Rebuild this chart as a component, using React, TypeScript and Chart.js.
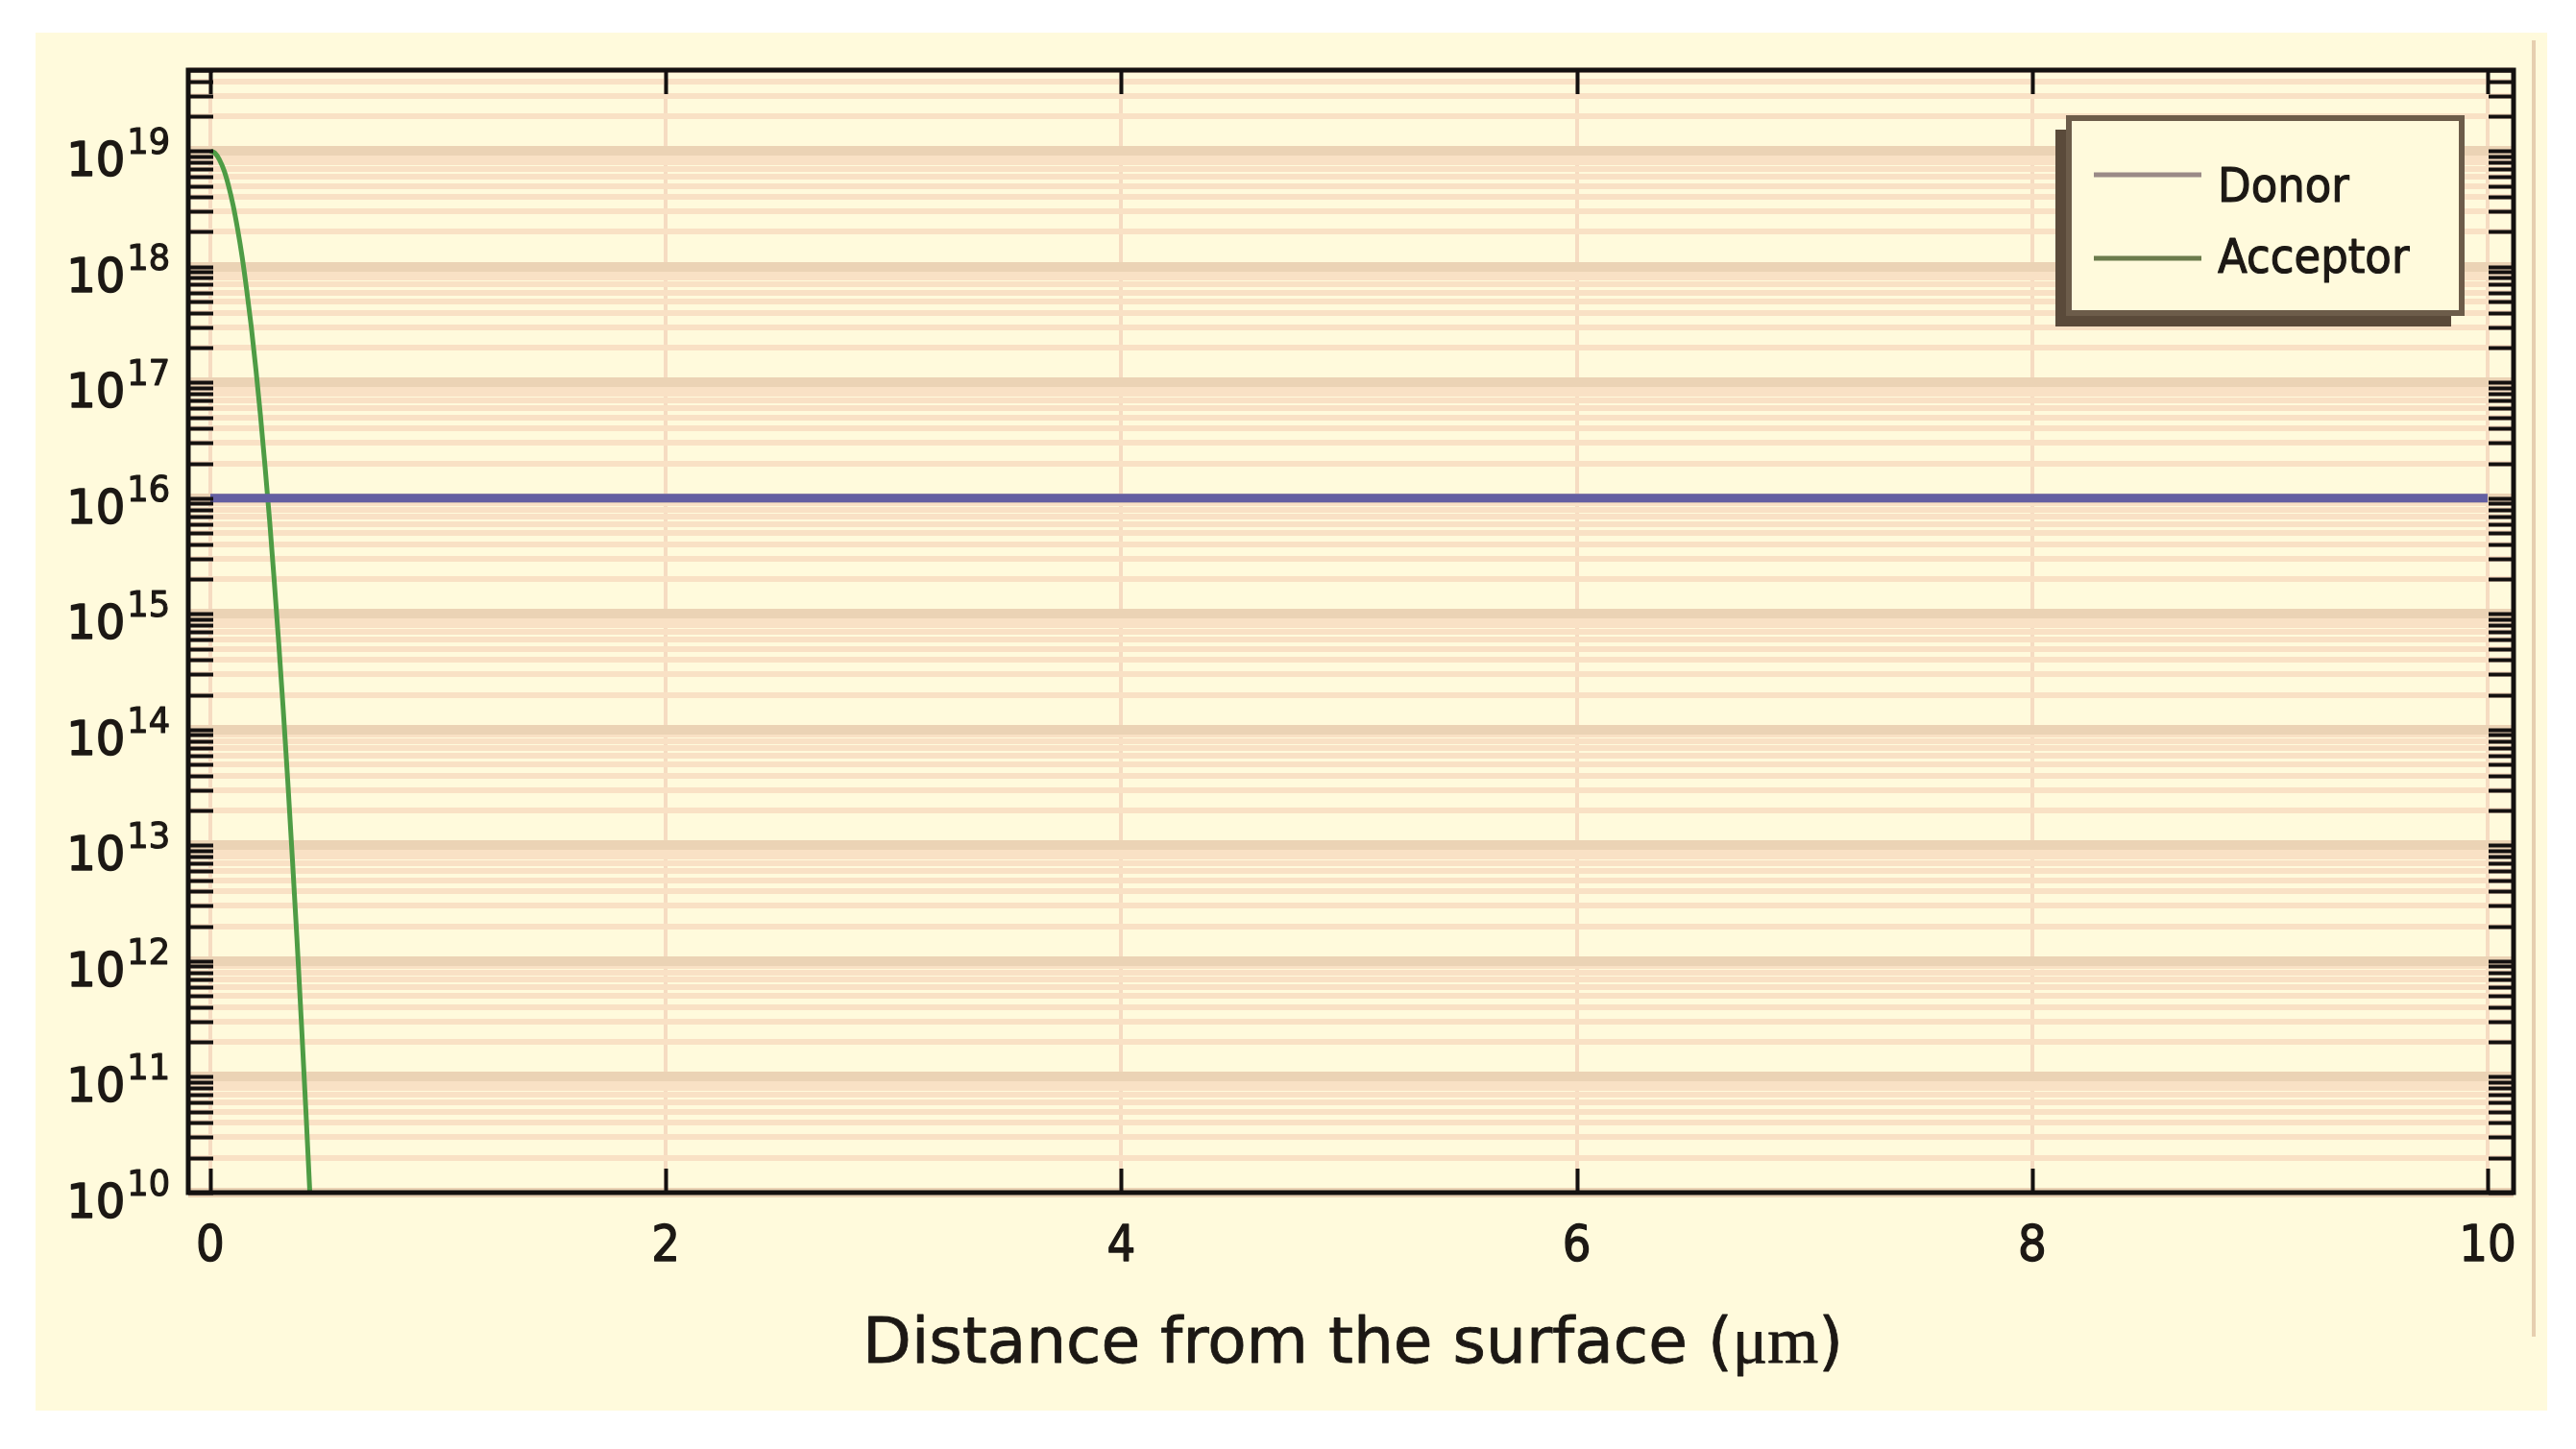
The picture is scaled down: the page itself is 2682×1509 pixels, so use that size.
import React, { useEffect, useRef } from 'react';
import { Chart, registerables } from 'chart.js';

Chart.register(...registerables);

// ---------- data ----------
const xTickValues = [0, 2, 4, 6, 8, 10];
const yDecadeExponents = [10, 11, 12, 13, 14, 15, 16, 17, 18, 19];
const yMinorSignificands = [2, 3, 4, 5, 6, 7, 8, 9];
const yAxisMin = 1e10;
const yAxisMax = 5e19;
const xAxisMin = -0.097;
const xAxisMax = 10.114;

const seriesLabels = ['Donor', 'Acceptor'];

const donorX = [0, 10];
const donorY = [1e16, 1e16];

const acceptorX = [
  0, 0.02, 0.04, 0.06, 0.08, 0.1, 0.12, 0.14, 0.16, 0.18, 0.2, 0.22, 0.24,
  0.26, 0.28, 0.3, 0.32, 0.34, 0.36, 0.38, 0.4, 0.42, 0.44,
];
const acceptorY = [
  1e19, 9.6e18, 8.4e18, 6.8e18, 5.0e18, 3.4e18, 2.1e18, 1.2e18, 6.2e17,
  3.0e17, 1.3e17, 5.2e16, 1.9e16, 6.5e15, 2.0e15, 5.7e14, 1.5e14, 3.6e13,
  7.8e12, 1.6e12, 2.9e11, 4.9e10, 7.5e9,
];

const xTitleMain = 'Distance from the surface (';
const xTitleUnit = 'μm';
const xTitleClose = ')';

// ---------- styling ----------
const W = 2682;
const H = 1509;
const SQ = 0.9;
const TEXT = '#1c1814';
const CREAM = '#fffadc';
const SANS = '"DejaVu Sans", Verdana, sans-serif';
const SERIF = '"Liberation Serif", "DejaVu Serif", serif';

const isMajor = (v: number) => {
  const l = Math.log10(v);
  return Math.abs(l - Math.round(l)) < 1e-6;
};

function drawText(
  ctx: CanvasRenderingContext2D,
  text: string,
  x: number,
  y: number,
  font: string,
  align: 'left' | 'center' | 'right',
  sx: number,
  bold = 1.2,
) {
  ctx.save();
  ctx.font = font;
  const w = ctx.measureText(text).width * sx;
  const left = align === 'left' ? x : align === 'center' ? x - w / 2 : x - w;
  ctx.translate(left, y);
  ctx.scale(sx, 1);
  ctx.textAlign = 'left';
  ctx.textBaseline = 'alphabetic';
  ctx.fillStyle = TEXT;
  ctx.fillText(text, 0, 0);
  if (bold > 0) {
    ctx.strokeStyle = TEXT;
    ctx.lineWidth = bold;
    ctx.lineJoin = 'round';
    ctx.strokeText(text, 0, 0);
  }
  ctx.restore();
  return w;
}

const decorPlugin = {
  id: 'decor',
  beforeDraw(chart: any) {
    const ctx: CanvasRenderingContext2D = chart.ctx;
    ctx.save();
    ctx.fillStyle = '#ffffff';
    ctx.fillRect(0, 0, W, H);
    ctx.fillStyle = CREAM;
    ctx.fillRect(37, 34, 2615, 1435);
    ctx.restore();
  },
  afterDraw(chart: any) {
    const ctx: CanvasRenderingContext2D = chart.ctx;
    const { left, right, top, bottom } = chart.chartArea;
    const xs = chart.scales.x;
    const ys = chart.scales.y;

    ctx.save();
    // thin beige vertical line at the right of the picture
    ctx.fillStyle = '#e6cfb0';
    ctx.fillRect(2636, 42, 4, 1350);

    // tick marks (inward) on all four sides
    ctx.strokeStyle = '#141110';
    ctx.lineWidth = 4;
    ctx.beginPath();
    ys.ticks.forEach((t: any) => {
      const y = Math.round(ys.getPixelForValue(t.value)) + 0.5;
      if (y < top - 1 || y > bottom + 1) return;
      ctx.moveTo(left, y);
      ctx.lineTo(left + 26, y);
      ctx.moveTo(right, y);
      ctx.lineTo(right - 26, y);
    });
    xTickValues.forEach((v) => {
      const x = Math.round(xs.getPixelForValue(v)) + 0.5;
      ctx.moveTo(x, top);
      ctx.lineTo(x, top + 25);
      ctx.moveTo(x, bottom);
      ctx.lineTo(x, bottom - 25);
    });
    ctx.stroke();

    // frame
    ctx.lineWidth = 5;
    ctx.strokeRect(left, top, right - left, bottom - top);
    ctx.restore();

    // y tick labels 10^n
    yDecadeExponents.forEach((e) => {
      const y = ys.getPixelForValue(Math.pow(10, e));
      const supW = drawText(ctx, String(e), 177, y + 3, `37px ${SANS}`, 'right', 0.95);
      drawText(ctx, '10', 177 - supW - 2, y + 26, `49px ${SANS}`, 'right', 0.98, 1.6);
    });

    // x tick labels
    xTickValues.forEach((v) => {
      drawText(ctx, String(v), xs.getPixelForValue(v), 1313, `52px ${SANS}`, 'center', SQ, 1.4);
    });

    // x axis title (mixed fonts), fitted to the width seen in the reference
    ctx.save();
    const fMain = `66px ${SANS}`;
    const fUnit = `68px ${SERIF}`;
    ctx.font = fMain;
    const w1 = ctx.measureText(xTitleMain).width;
    const w3 = ctx.measureText(xTitleClose).width;
    ctx.font = fUnit;
    const w2 = ctx.measureText(xTitleUnit).width;
    ctx.restore();
    const total = w1 + w2 + w3;
    const tsx = 1021 / total;
    let tx = (left + right) / 2 - 1021 / 2 + 2;
    tx += drawText(ctx, xTitleMain, tx, 1419, fMain, 'left', tsx, 0.8);
    tx += drawText(ctx, xTitleUnit, tx, 1419, fUnit, 'left', tsx, 0.8);
    drawText(ctx, xTitleClose, tx, 1419, fMain, 'left', tsx, 0.8);

    // legend with drop shadow
    ctx.save();
    ctx.fillStyle = '#5a4a3a';
    ctx.fillRect(2140, 135, 412, 205);
    ctx.fillStyle = CREAM;
    ctx.fillRect(2154, 123, 409, 203);
    ctx.strokeStyle = '#6c5c4a';
    ctx.lineWidth = 6;
    ctx.strokeRect(2154, 123, 409, 203);
    ctx.lineWidth = 5;
    ctx.strokeStyle = '#9a8a87';
    ctx.beginPath();
    ctx.moveTo(2180, 182);
    ctx.lineTo(2292, 182);
    ctx.stroke();
    ctx.strokeStyle = '#6b7b4b';
    ctx.beginPath();
    ctx.moveTo(2180, 269);
    ctx.lineTo(2292, 269);
    ctx.stroke();
    ctx.restore();
    drawText(ctx, seriesLabels[0], 2309, 210, `50px ${SANS}`, 'left', SQ, 1.2);
    drawText(ctx, seriesLabels[1], 2309, 284, `50px ${SANS}`, 'left', SQ, 1.2);
  },
};

function buildYTicks() {
  const ticks: { value: number; major: boolean }[] = [];
  yDecadeExponents.forEach((e) => {
    const base = Math.pow(10, e);
    if (base <= yAxisMax) ticks.push({ value: base, major: true });
    yMinorSignificands.forEach((s) => {
      const v = s * base;
      if (v <= yAxisMax * 1.0000001) ticks.push({ value: v, major: false });
    });
  });
  return ticks.sort((a, b) => a.value - b.value);
}

export default function App() {
  const ref = useRef<HTMLCanvasElement | null>(null);

  useEffect(() => {
    document.body.style.margin = '0';
    const canvas = ref.current;
    if (!canvas) return;
    const chart = new Chart(canvas, {
      type: 'line',
      data: {
        datasets: [
          {
            label: seriesLabels[0],
            data: donorX.map((x, i) => ({ x, y: donorY[i] })),
            borderColor: '#645fa2',
            borderWidth: 9,
            pointRadius: 0,
            tension: 0,
          },
          {
            label: seriesLabels[1],
            data: acceptorX.map((x, i) => ({ x, y: acceptorY[i] })),
            borderColor: '#4e9c45',
            borderWidth: 5,
            pointRadius: 0,
            cubicInterpolationMode: 'monotone',
          },
        ],
      },
      options: {
        animation: false,
        responsive: false,
        devicePixelRatio: 1,
        layout: { padding: { left: 0, right: 65, top: 73, bottom: 0 } },
        plugins: {
          legend: { display: false },
          title: { display: false },
          tooltip: { enabled: false },
        },
        scales: {
          x: {
            type: 'linear',
            min: xAxisMin,
            max: xAxisMax,
            afterBuildTicks: (scale: any) => {
              scale.ticks = xTickValues.map((v) => ({ value: v }));
            },
            afterFit: (scale: any) => {
              scale.height = 267;
            },
            ticks: { display: false },
            border: { display: false },
            grid: { color: '#f6dcc2', lineWidth: 4, drawTicks: false },
          },
          y: {
            type: 'logarithmic',
            min: yAxisMin,
            max: yAxisMax,
            afterBuildTicks: (scale: any) => {
              scale.ticks = buildYTicks();
            },
            afterFit: (scale: any) => {
              scale.width = 196;
            },
            ticks: { display: false },
            border: { display: false },
            grid: {
              drawTicks: false,
              color: (c: any) => (c.tick && isMajor(c.tick.value) ? '#ebd3b5' : '#f9e1c5'),
              lineWidth: (c: any) => (c.tick && isMajor(c.tick.value) ? 10 : 6),
            },
          },
        },
      } as any,
      plugins: [decorPlugin],
    });
    return () => chart.destroy();
  }, []);

  return (
    <div style={{ position: 'absolute', left: 0, top: 0, width: W, height: H, background: '#fff' }}>
      <canvas ref={ref} width={W} height={H} style={{ display: 'block', width: W, height: H }} />
    </div>
  );
}
